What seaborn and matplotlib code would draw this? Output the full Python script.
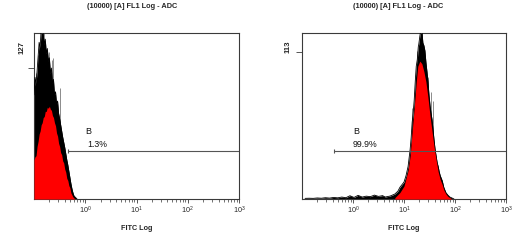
import numpy as np
import matplotlib
matplotlib.use("Agg")
import matplotlib.pyplot as plt
import seaborn as sns

# ---------------- data (log10 FITC channel positions and event counts) -------------
left_log = [-1.00, -0.98, -0.96, -0.94, -0.92, -0.90, -0.88, -0.86, -0.84, -0.82,
            -0.80, -0.78, -0.76, -0.74, -0.72, -0.70, -0.68, -0.66, -0.64, -0.62,
            -0.60, -0.58, -0.56, -0.54, -0.52, -0.50, -0.48, -0.46, -0.44, -0.42,
            -0.40, -0.38, -0.36, -0.34, -0.32, -0.30, -0.28, -0.26, -0.24, -0.22,
            -0.20, -0.18, -0.16]
left_black = [101, 118, 112, 124, 138, 152, 147, 165, 165, 160,
              150, 155, 141, 146, 134, 137, 122, 127, 112, 116,
              101, 104, 92, 95, 83, 78, 72, 66, 60, 55,
              50, 44, 38, 33, 27, 21, 15, 10, 6, 3,
              2, 1, 0]
left_red = [38, 41, 42, 51, 56, 63, 66, 72, 74, 79,
            80, 85, 85, 89, 88, 90, 87, 86, 81, 79,
            74, 71, 64, 61, 54, 51, 45, 43, 37, 35,
            29, 26, 20, 18, 13, 11, 6, 4, 2, 1,
            0, 0, 0]
left_spike_log = [-0.96, -0.92, -0.80, -0.70, -0.64, -0.62, -0.50]
left_spike = [122, 140, 163, 143, 135, 137, 108]

right_log = [-0.94, -0.86, -0.78, -0.70, -0.62, -0.54, -0.46, -0.38, -0.30, -0.22,
             -0.14, -0.06, 0.02, 0.10, 0.18, 0.26, 0.34, 0.42, 0.50, 0.58,
             0.63, 0.73, 0.82, 0.88, 0.92, 0.96, 1.00, 1.04, 1.08, 1.12,
             1.14, 1.16, 1.18, 1.20, 1.22, 1.24, 1.26, 1.28, 1.29, 1.31,
             1.33, 1.35, 1.37, 1.39, 1.41, 1.43, 1.45, 1.47, 1.49, 1.51,
             1.53, 1.55, 1.57, 1.59, 1.61, 1.63, 1.65, 1.67, 1.69, 1.71,
             1.75, 1.78, 1.82, 1.86, 1.90, 1.94, 1.98]
right_black = [0.5, 0.6, 0.5, 0.8, 0.6, 1.0, 0.7, 1.2, 0.9, 1.5,
               1.0, 2.5, 1.2, 2.8, 1.5, 2.2, 1.8, 3.0, 2.0, 2.6,
               1.5, 2.3, 3.8, 6, 9, 11, 13, 18, 25, 38,
               47, 59, 66, 76, 90, 102, 107, 117, 119, 125,
               130, 130, 120, 118, 114, 105, 98, 90, 80, 72,
               66, 61, 53, 45, 38, 33, 28, 25, 21, 18,
               14, 9, 5, 3, 1.5, 0.8, 0]
right_red_log = [0.82, 0.92, 1.00, 1.08, 1.12, 1.16, 1.20, 1.24, 1.27, 1.31,
                 1.35, 1.39, 1.43, 1.47, 1.51, 1.55, 1.59, 1.63, 1.67, 1.71,
                 1.75, 1.78, 1.82, 1.86, 1.90, 1.94]
right_red = [1, 5, 10, 22, 33, 52, 70, 90, 102, 106,
             104, 98, 90, 78, 64, 52, 40, 30, 21, 15,
             11, 7, 4, 2, 1, 0]
right_spike_log = [1.16, 1.255, 1.47, 1.53, 1.57]
right_spike = [70, 114, 94, 82, 75]

panel_title = "(10000) [A] FL1 Log - ADC"
x_label = "FITC Log"
y_max_labels = ["127", "113"]
y_max_values = [127, 113]
gate_name = "B"
gate_pct = ["1.3%", "99.9%"]
gate_start_log = [-0.34, -0.37]
gate_level = [46.6, 36.9]
x_ticks_log = [0, 1, 2, 3]

# ---------------- style -------------
sns.set_theme(style="white")
plt.rcParams['font.family'] = ['Liberation Sans', 'DejaVu Sans']
plt.rcParams['mathtext.fontset'] = 'custom'
plt.rcParams['mathtext.rm'] = 'Liberation Sans'
plt.rcParams['mathtext.it'] = 'Liberation Sans'
plt.rcParams['mathtext.default'] = 'regular'

spine_col = "#3a3a3a"

fig = plt.figure(figsize=(5.32, 2.5), dpi=100)
ax1 = fig.add_axes([34/532, 1-199/250, (239-34)/532, (199-33)/250])
ax2 = fig.add_axes([302/532, 1-199/250, (506-302)/532, (199-33)/250])

panels = [
    (ax1, left_log, left_black, left_log, left_red, left_spike_log, left_spike, 161.0),
    (ax2, right_log, right_black, right_red_log, right_red, right_spike_log, right_spike, 127.6),
]

for i, (ax, blog, bcnt, rlog, rcnt, slog, scnt, ytop) in enumerate(panels):
    bx = 10 ** np.asarray(blog)
    rx = 10 ** np.asarray(rlog)
    sx = 10 ** np.asarray(slog)
    ax.vlines(sx, 0, scnt, color="#8c8c8c", lw=0.7, zorder=1)
    ax.fill_between(bx, 0, bcnt, color="black", lw=0, zorder=2)
    sns.lineplot(x=bx, y=bcnt, ax=ax, color="black", lw=0.6, estimator=None,
                 sort=False, zorder=3)
    ax.fill_between(rx, 0, rcnt, color="#ff0000", lw=0, zorder=4)

    # gate
    gx = [10 ** gate_start_log[i], 10 ** 3]
    ax.plot(gx, [gate_level[i], gate_level[i]], color="#555555", lw=0.8, zorder=5)
    ax.plot([gx[0]], [gate_level[i]], marker="|", ms=3, mew=0.8, color="#555555", zorder=5)

    ax.set_xscale("log")
    ax.set_xlim(10 ** -1, 10 ** 3)
    ax.set_ylim(0, ytop)
    ax.set_xticks([10 ** t for t in x_ticks_log])
    ax.set_xticklabels([r"$10^{%d}$" % t for t in x_ticks_log], fontsize=5.2)
    ax.xaxis.set_minor_locator(matplotlib.ticker.LogLocator(base=10, subs=np.arange(2, 10)))
    ax.xaxis.set_minor_formatter(matplotlib.ticker.NullFormatter())
    ax.set_yticks([y_max_values[i]])
    ax.set_yticklabels([""])
    ax.tick_params(axis="x", which="major", direction="out", length=3, width=0.6,
                   color=spine_col, pad=1.0, bottom=True)
    ax.tick_params(axis="x", which="minor", direction="out", length=2, width=0.5,
                   color=spine_col, bottom=True)
    ax.tick_params(axis="y", which="major", direction="out", length=4, width=0.6,
                   color=spine_col, left=True)
    for s in ax.spines.values():
        s.set_color(spine_col)
        s.set_linewidth(0.8)
    ax.set_xlabel("")
    ax.set_ylabel("")

    ax.text(0.249, 0.404, gate_name, transform=ax.transAxes, fontsize=6.5,
            ha="left", va="center", color="#111111")
    ax.text(0.262 if i == 0 else 0.25, 0.331, gate_pct[i], transform=ax.transAxes,
            fontsize=6.3, ha="left", va="center", color="#111111")

# figure-level texts
fig.text(132/532, 1-6/250, panel_title, fontsize=5.3, fontweight="bold",
         ha="center", va="center")
fig.text(398/532, 1-6/250, panel_title, fontsize=5.3, fontweight="bold",
         ha="center", va="center")
fig.text(136.5/532, 1-229/250, x_label, fontsize=5.2, fontweight="bold",
         ha="center", va="center")
fig.text(404/532, 1-229/250, x_label, fontsize=5.2, fontweight="bold",
         ha="center", va="center")
fig.text(22/532, 1-47/250, y_max_labels[0], fontsize=5.6, fontweight="bold",
         rotation=90, ha="center", va="center")
fig.text(288/532, 1-47/250, y_max_labels[1], fontsize=5.6, fontweight="bold",
         rotation=90, ha="center", va="center")

fig.savefig("out.png", dpi=100, facecolor="white")
